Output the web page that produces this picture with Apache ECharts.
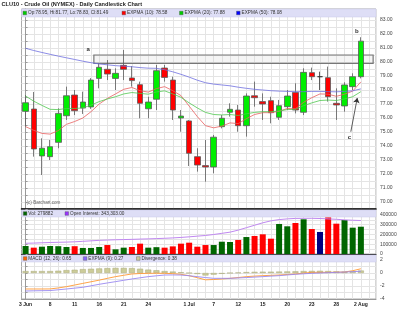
<!DOCTYPE html>
<html><head><meta charset="utf-8">
<script src="https://cdn.jsdelivr.net/npm/echarts@6/dist/echarts.min.js"></script>
<style>html,body{margin:0;padding:0;background:#fff}#c{width:400px;height:317px}</style>
</head><body><div id="c"></div>
<script>
const dates = ['3 Jun','4','7','8','9','10','11','14','15','16','17','18','21','22','23','24','25','28','29','30',
  '1 Jul','2','6','7','8','9','12','13','14','15','16','19','20','21','22','23','26','27','28','29','30','2 Aug'];
const labelIdx = [0,3,6,9,12,15,20,23,26,29,32,35,38,41];

const open  = [76.48,76.64,73.29,73.24,74.26,76.16,77.64,76.71,76.79,78.83,79.48,78.83,79.76,78.86,78.38,76.66,77.34,79.57,78.71,76.00,75.79,73.24,72.60,72.50,75.38,76.41,76.57,75.45,77.59,77.17,77.24,76.05,76.81,77.83,76.41,79.24,78.95,78.88,77.05,76.86,78.24,78.95];
const high  = [77.64,77.86,74.55,74.43,76.69,78.24,78.00,77.88,78.85,79.90,80.14,79.55,80.86,79.71,78.60,77.52,79.79,79.79,78.95,76.57,75.86,73.84,74.43,74.79,76.21,77.05,76.93,77.76,78.60,77.76,77.52,77.29,78.00,78.48,79.55,79.60,79.31,79.67,78.12,78.55,79.19,81.77];
const low   = [75.38,73.24,71.93,73.00,73.84,75.86,76.21,76.29,76.65,78.12,78.71,78.00,78.71,78.24,75.98,75.98,76.57,78.60,75.86,75.02,72.57,72.17,71.45,72.05,75.26,76.10,75.02,74.67,76.81,75.86,75.62,75.86,76.57,76.33,76.21,78.71,78.00,77.17,75.86,76.45,78.00,78.83];
const close = [77.09,73.79,73.84,73.95,76.33,77.59,76.52,77.14,78.71,79.62,79.14,79.19,79.48,78.67,77.05,77.14,79.38,78.90,76.57,76.14,73.48,72.64,72.50,74.63,75.98,76.62,75.45,77.57,77.45,77.00,76.38,76.88,77.57,76.57,79.26,78.95,78.95,77.52,76.93,78.36,78.95,81.49];

const ema10 = [75.38,75.12,74.90,74.85,75.10,75.55,75.75,76.00,76.45,77.00,77.40,77.72,78.05,78.18,77.95,77.85,78.10,78.24,77.95,77.60,76.85,76.10,75.45,75.30,75.42,75.65,75.60,75.95,76.25,76.38,76.38,76.48,76.68,76.66,77.12,77.45,77.72,77.70,77.55,77.70,77.92,78.58];
const ema20 = [77.57,77.20,76.90,76.62,76.60,76.68,76.68,76.72,76.92,77.17,77.36,77.52,77.72,77.82,77.76,77.70,77.86,77.94,77.72,77.48,77.08,76.72,76.40,76.25,76.22,76.25,76.18,76.30,76.40,76.45,76.45,76.50,76.60,76.62,76.88,77.08,77.25,77.28,77.25,77.36,77.52,77.88];
const ema50 = [80.98,80.82,80.68,80.55,80.42,80.30,80.18,80.06,79.95,79.86,79.80,79.74,79.70,79.66,79.60,79.56,79.55,79.45,79.30,79.12,78.92,78.70,78.52,78.42,78.36,78.30,78.20,78.12,78.05,78.00,77.95,77.92,77.90,77.88,77.88,77.90,77.90,77.88,77.87,77.90,77.94,78.08];

const volume = [82000,65000,75000,82000,80000,72000,80000,62000,62000,72000,92000,48000,65000,72000,106000,65000,70000,65000,78000,106000,116000,75000,92000,92000,126000,123000,144000,174000,185000,202000,157000,308000,284000,318000,356000,256000,226000,376000,311000,349000,270000,279882];
const openInterest = [110000,112000,115000,118000,120000,122000,125000,130000,135000,140000,143000,146000,148000,150000,153000,155000,158000,161000,165000,170000,176000,183000,190000,200000,212000,224000,245000,270000,295000,320000,340000,353000,360000,365000,366000,366000,364000,360000,356000,350000,346000,343303];

const macd = [-2.46,-2.46,-2.46,-2.45,-2.30,-2.10,-1.85,-1.60,-1.35,-1.10,-0.82,-0.56,-0.35,-0.15,-0.08,-0.05,-0.04,-0.05,-0.10,-0.20,-0.42,-0.72,-1.05,-1.00,-0.92,-0.82,-0.70,-0.56,-0.48,-0.41,-0.36,-0.31,-0.23,-0.15,-0.02,0.10,0.10,0.10,0.12,0.15,0.35,0.65];
const signal = [-2.77,-2.74,-2.72,-2.70,-2.58,-2.46,-2.33,-2.20,-1.97,-1.74,-1.53,-1.33,-1.12,-0.92,-0.74,-0.56,-0.43,-0.31,-0.30,-0.31,-0.42,-0.56,-0.70,-0.82,-0.82,-0.82,-0.76,-0.70,-0.63,-0.56,-0.48,-0.41,-0.30,-0.20,-0.12,-0.05,0.00,0.05,0.10,0.15,0.20,0.27];
const divergence = [0.30,0.30,0.30,0.30,0.35,0.45,0.50,0.60,0.65,0.70,0.75,0.78,0.78,0.75,0.66,0.52,0.42,0.30,0.22,0.12,0.00,-0.15,-0.38,-0.25,-0.12,0.00,0.06,0.14,0.18,0.20,0.20,0.22,0.24,0.26,0.30,0.32,0.34,0.30,0.25,0.20,0.28,0.38];

// annotations (data coordinates: slot index, price)
const annLabels = [['a',7.65,80.90],['b',40.5,82.17],['c',39.6,74.60]];
const boxRange = [8.35, 42.5, 79.90, 80.50];
const arrowFrom = [39.77, 75.02], arrowTo = [40.56, 77.43];

const FONT = 'Liberation Sans';
const L = 21.5, W = 354.5;
const chart = echarts.init(document.getElementById('c'), null, {renderer:'canvas'});

const idx = dates.map((d,i)=>i);
const pair = arr => arr.map((v,i)=>[i,v]);
const up='#00ee00', dn='#ff0000';
const candles = idx.map(i=>{
  const it = {value:[i, open[i], close[i], low[i], high[i]]};
  if (open[i]===close[i]) it.itemStyle = {color:'#333', borderColor:'#333'};
  return it;
});
const volItems = idx.map(i=>{
  let c = '#006600';
  if (i>0) c = close[i]>close[i-1] ? '#006600' : (close[i]<close[i-1] ? '#ff0000' : '#000080');
  return {value:[i, volume[i]], itemStyle:{color:c}};
});

function xAxis(g, showLabels, lineColor, lineWidth){
  return {type:'value', gridIndex:g, min:-0.5, max:42.85, interval:0.5,
    axisLine:{show:true, onZero:false, lineStyle:{color:lineColor, width:lineWidth}},
    axisTick:{show:false},
    axisLabel:{show:showLabels, fontSize:5, fontFamily:FONT, color:'#222', margin:3, fontWeight:'bold',
      formatter:v=>{const i=Math.round(v); return (Math.abs(v-i)<1e-6 && labelIdx.includes(i)) ? dates[i] : '';}},
    splitLine:{show:true, lineStyle:{color:['rgba(0,0,0,0)','#e4e4e4'], width:1}}};
}
function yAxis(g, min, max, interval, fmt){
  return {type:'value', gridIndex:g, position:'right', min, max, interval,
    axisLine:{show:true, lineStyle:{color:'#999'}},
    axisTick:{show:true, length:2, lineStyle:{color:'#999'}},
    axisLabel:{fontSize:5, fontFamily:FONT, color:'#444', margin:4, formatter:fmt},
    splitLine:{show:true, lineStyle:{color:'#e4e4e4'}}};
}
const isInt = v => Math.abs(v-Math.round(v))<1e-6;

const last = a => a[a.length-1];
const f2 = v => v.toFixed(2);
function band(y, h, items){
  const els = [{type:'rect', shape:{x:L, y, width:W, height:h}, style:{fill:'#dedef6', stroke:'#c8c8e8', lineWidth:0.5}, z:100}];
  items.forEach(([x, col, txt])=>{
    els.push({type:'rect', shape:{x, y:y+h/2-1.8, width:3.6, height:3.6}, style:{fill:col, stroke:'#555', lineWidth:0.4}, z:101});
    els.push({type:'text', x:x+5, y:y+h/2, style:{text:txt, fill:'#333', fontSize:4.7, fontFamily:FONT, verticalAlign:'middle', align:'left'}, z:101});
  });
  return els;
}
const graphics = [
  {type:'text', x:1.5, y:4.3, style:{text:'CLU10 - Crude Oil (NYMEX) - Daily Candlestick Chart', fill:'#222', fontSize:5.6, fontWeight:'bold', fontFamily:FONT, verticalAlign:'middle'}, z:101},
  {type:'text', x:26.5, y:203, style:{text:'(c) Barchart.com', fill:'#666', fontSize:4.6, fontFamily:FONT, verticalAlign:'middle'}, z:101},
  ...band(9, 8, [
    [23, '#00cc00', `Op:${f2(last(open))}, Hi:${f2(last(high))}, Lo:${f2(last(low))}, Cl:${f2(last(close))}`],
    [122, '#ff0000', `EXPMA (10): ${f2(last(ema10))}`],
    [179.5, '#00cc00', `EXPMA (20): ${f2(last(ema20))}`],
    [236.5, '#0000ff', `EXPMA (50): ${f2(last(ema50))}`]
  ]),
  ...band(210, 7, [
    [23.3, '#006600', `Vol: ${last(volume)}`],
    [65, '#9933ff', `Open Interest: ${last(openInterest).toLocaleString('en-US',{minimumFractionDigits:2})}`]
  ]),
  ...band(255, 7, [
    [23.3, '#ff6600', `MACD (12, 26): ${f2(last(macd))}`],
    [83.3, '#8866ff', `EXPMA (9): ${f2(last(signal))}`],
    [136.5, '#cccc99', `Divergence: ${f2(last(divergence))}`]
  ])
];

const option = {
  animation:false,
  backgroundColor:'#fff',
  grid:[
    {left:L, width:W, top:9, height:200, show:true, borderColor:'#aaa', borderWidth:1},
    {left:L, width:W, top:209, height:45, show:true, borderColor:'#aaa', borderWidth:1},
    {left:L, width:W, top:255, height:44, show:true, borderColor:'#aaa', borderWidth:1}
  ],
  xAxis:[xAxis(0,false,'#000',1.5), xAxis(1,false,'#222',1.2), xAxis(2,true,'#999',1)],
  yAxis:[
    yAxis(0, 69.5, 83.786, 0.5, v=>isInt(v)?v.toFixed(2):''),
    yAxis(1, 0, 461500, 50000, v=>(v%100000===0)?String(v):''),
    yAxis(2, -4, 2.77, 1, v=>(isInt(v)&&Math.round(v)%2===0)?String(Math.round(v)):'')
  ],
  graphic: graphics,
  series:[
    {type:'candlestick', xAxisIndex:0, yAxisIndex:0, data:candles, barWidth:6,
      itemStyle:{color:up, color0:dn, borderColor:'#5a5a5a', borderColor0:'#5a5a5a', borderColorDoji:'#333', borderWidth:0.8},
      markLine:{silent:true, symbol:'none', animation:false,
        lineStyle:{opacity:0},
        data:[{yAxis:last(close)}],
        label:{show:true, position:'end', distance:4, formatter:f2(last(close)), backgroundColor:'#000', color:'#fff', fontSize:5, fontWeight:'bold', fontFamily:FONT, padding:[1,1.5]}}},
    {type:'line', xAxisIndex:0, yAxisIndex:0, data:pair(ema10), symbol:'none', lineStyle:{color:'#e86060', width:0.8}, z:3,
      markArea:{silent:true, itemStyle:{color:'rgba(200,200,200,0.18)', borderColor:'#777', borderWidth:1.2},
        data:[[{coord:[boxRange[0], boxRange[3]]},{coord:[boxRange[1], boxRange[2]]}]]}},
    {type:'line', xAxisIndex:0, yAxisIndex:0, data:pair(ema20), symbol:'none', lineStyle:{color:'#50c850', width:0.8}, z:3,
      markPoint:{silent:true, symbol:'circle', symbolSize:1, itemStyle:{color:'rgba(0,0,0,0)'},
        label:{show:true, position:'inside', formatter:'{b}', fontSize:6, fontWeight:'bold', color:'#333', fontFamily:FONT},
        data:annLabels.map(([t,x,y])=>({name:t, coord:[x,y]}))}},
    {type:'line', xAxisIndex:0, yAxisIndex:0, data:pair(ema50), symbol:'none', lineStyle:{color:'#7070e0', width:0.8}, z:3,
      markLine:{silent:true, symbol:['none','arrow'], symbolSize:5, label:{show:false},
        lineStyle:{color:'#333', width:0.8, type:'solid'},
        data:[[{coord:arrowFrom},{coord:arrowTo}]]}},
    {type:'bar', xAxisIndex:1, yAxisIndex:1, data:volItems, barWidth:6},
    {type:'line', xAxisIndex:1, yAxisIndex:1, data:pair(openInterest), symbol:'none', lineStyle:{color:'#c088f0', width:1}, z:3},
    {type:'bar', xAxisIndex:2, yAxisIndex:2, data:pair(divergence), barWidth:6, itemStyle:{color:'#cccc99', borderColor:'#a8a878', borderWidth:0.5}},
    {type:'line', xAxisIndex:2, yAxisIndex:2, data:pair(macd), symbol:'none', lineStyle:{color:'#ff9933', width:0.9}, z:3},
    {type:'line', xAxisIndex:2, yAxisIndex:2, data:pair(signal), symbol:'none', lineStyle:{color:'#9988f0', width:0.9}, z:3}
  ]
};
chart.setOption(option);
</script></body></html>
